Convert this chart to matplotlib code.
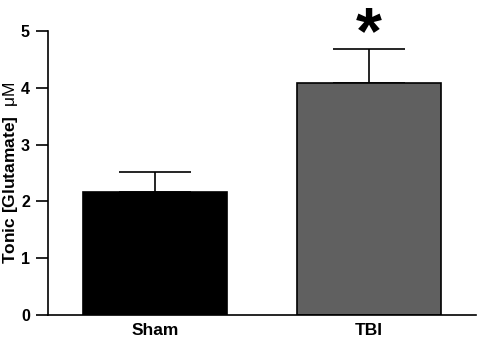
import matplotlib
matplotlib.use('Agg')
import matplotlib.pyplot as plt

groups = ['Sham', 'TBI']
means = [2.17, 4.08]
sem = [0.35, 0.60]
colors = ['#000000', '#606060']

plt.rcParams['font.family'] = ['Liberation Sans', 'DejaVu Sans']
plt.rcParams['mathtext.fontset'] = 'custom'
plt.rcParams['mathtext.rm'] = 'Liberation Sans'
plt.rcParams['mathtext.bf'] = 'Liberation Sans:bold'
plt.rcParams['mathtext.it'] = 'Liberation Sans:italic'

fig = plt.figure(figsize=(4.78, 3.38), dpi=100)
ax = fig.add_axes([0.1004, 0.068, 0.8956, 0.840])

x = range(len(groups))
ax.bar(x, means, width=0.67, color=colors, edgecolor='black', linewidth=1.2, zorder=2)
ax.errorbar(x, means, yerr=[[0, 0], sem], fmt='none', ecolor='black',
            elinewidth=1.2, capsize=26, capthick=1.2, zorder=1)

# significance marker
ax.text(1, 4.62, '*', ha='center', va='baseline', fontsize=48, fontweight='bold',
        clip_on=False)

ax.set_xlim(-0.5, 1.5)
ax.set_ylim(0, 5)
ax.set_yticks([0, 1, 2, 3, 4, 5])
ax.set_xticks(list(x))
ax.set_xticklabels(groups, fontsize=12.5, fontweight='bold')
for lab in ax.get_yticklabels():
    lab.set_fontweight('bold')
    lab.set_fontsize(11.5)
ax.tick_params(axis='y', direction='out', length=9, width=1.2, pad=4)
ax.tick_params(axis='x', length=0, pad=6)
ax.spines['top'].set_visible(False)
ax.spines['right'].set_visible(False)
ax.spines['left'].set_linewidth(1.2)
ax.spines['bottom'].set_linewidth(1.2)
ax.set_ylabel(r'$\mathbf{Tonic\ [Glutamate]}\ \ \mathrm{\mu M}$', fontsize=12.5)
ax.yaxis.set_label_coords(-0.065, 0.5)

fig.savefig('out.png', dpi=100)
